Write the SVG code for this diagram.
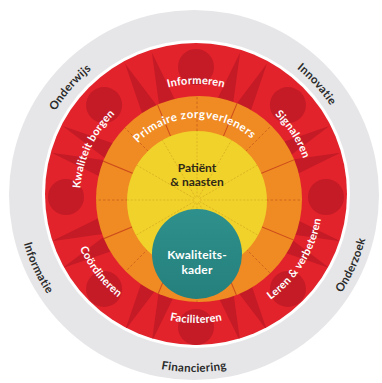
<svg xmlns="http://www.w3.org/2000/svg" width="382" height="383" viewBox="0 0 382 383">
  <defs>
    <style>
      text { font-family: Lato, "Open Sans", "Liberation Sans", sans-serif; font-weight: 700; }
      .lbl { fill: #ffffff; font-size: 11px; letter-spacing: 0.2px; }
      .band { fill: #2a2a2a; font-size: 11.5px; letter-spacing: 0.3px; }
      .core { fill: #2f2816; font-size: 12px; text-anchor: middle; }
      .kader { fill: #ffffff; font-size: 12px; text-anchor: middle; letter-spacing: 0.2px; }
      .dark { fill: #c41b27; }
      .sep { stroke: #cc4a1c; stroke-width: 1; }
      .dash { stroke: #c8601c; stroke-width: 0.8; stroke-dasharray: 2.5 2; }
      .ydash { stroke: #d9ad1f; stroke-width: 0.7; stroke-dasharray: 2 1.6; }
    </style>
    <clipPath id="redClip"><circle cx="196" cy="194" r="151"/></clipPath>
    <clipPath id="orangeClip"><circle cx="199" cy="199" r="103"/></clipPath>
    <clipPath id="yellowClip"><circle cx="197" cy="201" r="70"/></clipPath>
    <polygon id="spike" points="98,-8.5 98,8.5 151,0"/>
    <linearGradient id="tealFill" x1="0" y1="0" x2="0" y2="1">
      <stop offset="0" stop-color="#2e908c"/>
      <stop offset="1" stop-color="#25807c"/>
    </linearGradient>
    <!-- label baselines: clockwise arcs put letters outward, counter-clockwise arcs inward -->
    <path id="pInformeren" d="M98.14,140.5 A113,113 0 0 1 293.86,140.5"/>
    <path id="pSignaleren" d="M190.03,83.16 A114,114 0 0 1 297.58,248.75"/>
    <path id="pLeren" d="M191.57,323.92 A127,127 0 0 0 308.13,137.38"/>
    <path id="pFaciliteren" d="M86.88,260 A126,126 0 0 0 305.12,260"/>
    <path id="pCoordineren" d="M78.25,149.42 A127,127 0 0 0 213.67,322.77"/>
    <path id="pBorgen" d="M100.98,263.54 A116,116 0 0 1 185.89,81.44"/>
    <path id="pOnderwijs" d="M40.83,247.74 A162,162 0 0 1 224.91,35.98"/>
    <path id="pInnovatie" d="M160.11,35.56 A163,163 0 0 1 349.02,245.37"/>
    <path id="pOnderzoek" d="M212.5,371.03 A177,177 0 0 0 337.2,90.96"/>
    <path id="pFinanciering" d="M40.71,283.5 A177,177 0 0 0 347.29,283.5"/>
    <path id="pInformatie" d="M49.01,93.48 A177,177 0 0 0 178.57,371.33"/>
    <path id="pPrimaire" d="M124.6,161.5 A82,82 0 0 1 266.54,156.55"/>
  </defs>

  <rect width="382" height="383" fill="#ffffff"/>

  <!-- outer context band -->
  <g id="context-band">
    <circle cx="194" cy="195" r="185" fill="#e6e6e8"/>
    <circle cx="196" cy="194" r="154" fill="#ffffff"/>
  </g>

  <!-- red ring with darker pattern -->
  <g id="task-ring">
    <circle cx="196" cy="194" r="151" fill="#e2232b"/>
    <g clip-path="url(#redClip)" class="dark">
      <g transform="translate(196 197)">
        <use href="#spike" transform="rotate(-17)"/>
        <use href="#spike" transform="rotate(17)"/>
        <use href="#spike" transform="rotate(28)"/>
        <use href="#spike" transform="rotate(62)"/>
        <use href="#spike" transform="rotate(73)"/>
        <use href="#spike" transform="rotate(107)"/>
        <use href="#spike" transform="rotate(118)"/>
        <use href="#spike" transform="rotate(152)"/>
        <use href="#spike" transform="rotate(163)"/>
        <use href="#spike" transform="rotate(197)"/>
        <use href="#spike" transform="rotate(208)"/>
        <use href="#spike" transform="rotate(242)"/>
        <use href="#spike" transform="rotate(253)"/>
        <use href="#spike" transform="rotate(287)"/>
        <use href="#spike" transform="rotate(298)"/>
        <use href="#spike" transform="rotate(332)"/>
      </g>
      <circle cx="326" cy="197" r="18"/>
      <circle cx="287.92" cy="288.92" r="18"/>
      <circle cx="196" cy="327" r="18"/>
      <circle cx="104.08" cy="288.92" r="18"/>
      <circle cx="66" cy="197" r="18"/>
      <circle cx="104.08" cy="105.08" r="18"/>
      <circle cx="196" cy="67" r="18"/>
      <circle cx="287.92" cy="105.08" r="18"/>
    </g>
  </g>

  <!-- orange ring -->
  <g id="care-ring">
    <circle cx="199" cy="199" r="103" fill="#ef8b22"/>
    <g clip-path="url(#orangeClip)">
      <g transform="translate(197 200)">
        <line class="sep" x1="60" x2="110" transform="rotate(22.5)"/>
        <line class="sep" x1="60" x2="110" transform="rotate(67.5)"/>
        <line class="sep" x1="60" x2="110" transform="rotate(112.5)"/>
        <line class="sep" x1="60" x2="110" transform="rotate(157.5)"/>
        <line class="sep" x1="60" x2="110" transform="rotate(202.5)"/>
        <line class="sep" x1="60" x2="110" transform="rotate(247.5)"/>
        <line class="sep" x1="60" x2="110" transform="rotate(292.5)"/>
        <line class="sep" x1="60" x2="110" transform="rotate(337.5)"/>
        <line class="dash" x1="60" x2="110"/>
        <line class="dash" x1="60" x2="110" transform="rotate(45)"/>
        <line class="dash" x1="60" x2="110" transform="rotate(90)"/>
        <line class="dash" x1="60" x2="110" transform="rotate(135)"/>
        <line class="dash" x1="60" x2="110" transform="rotate(180)"/>
        <line class="dash" x1="60" x2="110" transform="rotate(225)"/>
        <line class="dash" x1="60" x2="110" transform="rotate(270)"/>
        <line class="dash" x1="60" x2="110" transform="rotate(315)"/>
      </g>
    </g>
  </g>

  <!-- yellow core -->
  <g id="patient-core">
    <circle cx="197" cy="201" r="70" fill="#f0d22b"/>
    <g clip-path="url(#yellowClip)">
      <g transform="translate(197 200)">
        <line class="ydash" x1="3" x2="74"/>
        <line class="ydash" x1="3" x2="74" transform="rotate(30)"/>
        <line class="ydash" x1="3" x2="74" transform="rotate(60)"/>
        <line class="ydash" x1="3" x2="74" transform="rotate(90)"/>
        <line class="ydash" x1="3" x2="74" transform="rotate(120)"/>
        <line class="ydash" x1="3" x2="74" transform="rotate(150)"/>
        <line class="ydash" x1="3" x2="74" transform="rotate(180)"/>
        <line class="ydash" x1="3" x2="74" transform="rotate(210)"/>
        <line class="ydash" x1="3" x2="74" transform="rotate(240)"/>
        <line class="ydash" x1="3" x2="74" transform="rotate(270)"/>
        <line class="ydash" x1="3" x2="74" transform="rotate(300)"/>
        <line class="ydash" x1="3" x2="74" transform="rotate(330)"/>
      </g>
    </g>
    <text class="core" x="197" y="172">Patiënt</text>
    <text class="core" x="197" y="186">&amp; naasten</text>
  </g>

  <!-- teal quality framework -->
  <g id="kwaliteitskader">
    <circle cx="197" cy="254" r="45" fill="url(#tealFill)"/>
    <text class="kader" x="197" y="259">Kwaliteits-</text>
    <text class="kader" x="197" y="274">kader</text>
  </g>

  <g id="primaire-zorgverleners">
    <text class="lbl" style="font-size:11.5px;letter-spacing:0.5px" text-anchor="middle"><textPath href="#pPrimaire" startOffset="50%">Primaire zorgverleners</textPath></text>
  </g>

  <g id="tasks">
    <text class="lbl" text-anchor="middle"><textPath href="#pInformeren" startOffset="50%">Informeren</textPath></text>
    <text class="lbl" text-anchor="middle"><textPath href="#pSignaleren" startOffset="50%">Signaleren</textPath></text>
    <text class="lbl" text-anchor="middle"><textPath href="#pLeren" startOffset="50%">Leren &amp; verbeteren</textPath></text>
    <text class="lbl" text-anchor="middle"><textPath href="#pFaciliteren" startOffset="50%">Faciliteren</textPath></text>
    <text class="lbl" text-anchor="middle"><textPath href="#pCoordineren" startOffset="50%">Coördineren</textPath></text>
    <text class="lbl" text-anchor="middle"><textPath href="#pBorgen" startOffset="50%">Kwaliteit borgen</textPath></text>
  </g>

  <g id="context">
    <text class="band" text-anchor="middle"><textPath href="#pOnderwijs" startOffset="50%">Onderwijs</textPath></text>
    <text class="band" text-anchor="middle"><textPath href="#pInnovatie" startOffset="50%">Innovatie</textPath></text>
    <text class="band" text-anchor="middle"><textPath href="#pOnderzoek" startOffset="50%">Onderzoek</textPath></text>
    <text class="band" text-anchor="middle"><textPath href="#pFinanciering" startOffset="50%">Financiering</textPath></text>
    <text class="band" text-anchor="middle"><textPath href="#pInformatie" startOffset="50%">Informatie</textPath></text>
  </g>
</svg>
